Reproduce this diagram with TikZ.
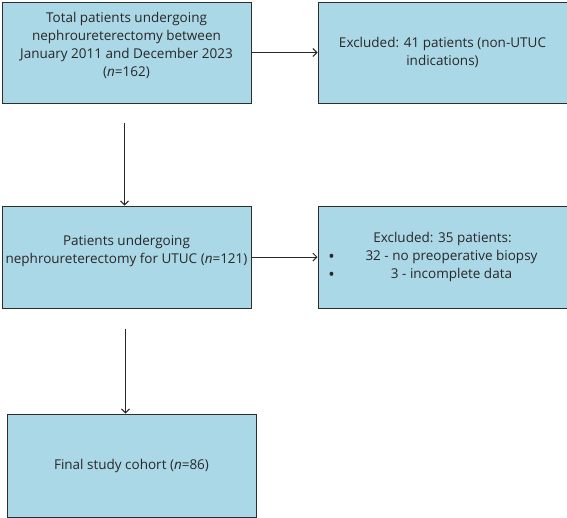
\documentclass[tikz,border=0pt]{standalone}
\usepackage{fontspec}
\setmainfont{Open Sans}
\usetikzlibrary{positioning}
\usetikzlibrary{arrows.meta}
\definecolor{boxblue}{RGB}{171,216,230}
\definecolor{boxline}{RGB}{45,45,45}
\definecolor{inkgray}{RGB}{40,40,40}

\begin{document}
\begin{tikzpicture}[font=\fontsize{13.5}{18}\selectfont, text=inkgray,
    main/.style = {draw=boxline, fill=boxblue, line width=1pt, align=center, minimum width=249pt, minimum height=101pt, inner sep=2pt},
    dot/.style = {inner sep=0pt, font=\fontsize{17}{17}\selectfont},
    flow/.style = {draw=inkgray, line width=0.9pt, -{Straight Barb[length=4pt, width=8pt, line width=0.9pt]}}]
    \useasboundingbox (0,0) rectangle (567pt,-517pt);
    \node[main] (total) at (126.5pt,-52.5pt) {Total patients undergoing\\ nephroureterectomy between\\ January 2011 and December 2023\\ (\textit{n}=162)\\[-2pt]};
    \node[main] (excl1) [right=66pt of total] {Excluded: 41 patients (non-UTUC\\ indications)};
    \node[main, minimum height=102pt] (cohort) [below=102pt of total] {Patients undergoing\\ nephroureterectomy for UTUC (\textit{n}=121)\\[-2pt]};
    \node[main, minimum height=102pt] (excl2) [right=66pt of cohort] {Excluded: 35 patients:\\ \hspace*{18pt}32 - no preoperative biopsy\\ \hspace*{18pt}3 - incomplete data};
    \node[main, minimum height=103pt] (final) [below=105pt of cohort, xshift=5pt] {Final study cohort (\textit{n}=86)};
    % bullets of the second exclusion box
    \node[dot] (b1) at ([xshift=14pt, yshift=-1pt]excl2.west) {\textbullet};
    \node[dot] (b2) at ([xshift=14pt, yshift=-19pt]excl2.west) {\textbullet};
    \coordinate (s1) at ([xshift=-2pt, yshift=-19pt]total.south);
    \coordinate (s2) at ([xshift=-1pt, yshift=-20pt]cohort.south);
    \draw[flow] (total) -- (excl1);
    \draw[flow] (cohort) -- (excl2);
    \draw[flow] (s1) -- (s1 |- cohort.north);
    \draw[flow] (s2) -- (s2 |- final.north);
\end{tikzpicture}
\end{document}
